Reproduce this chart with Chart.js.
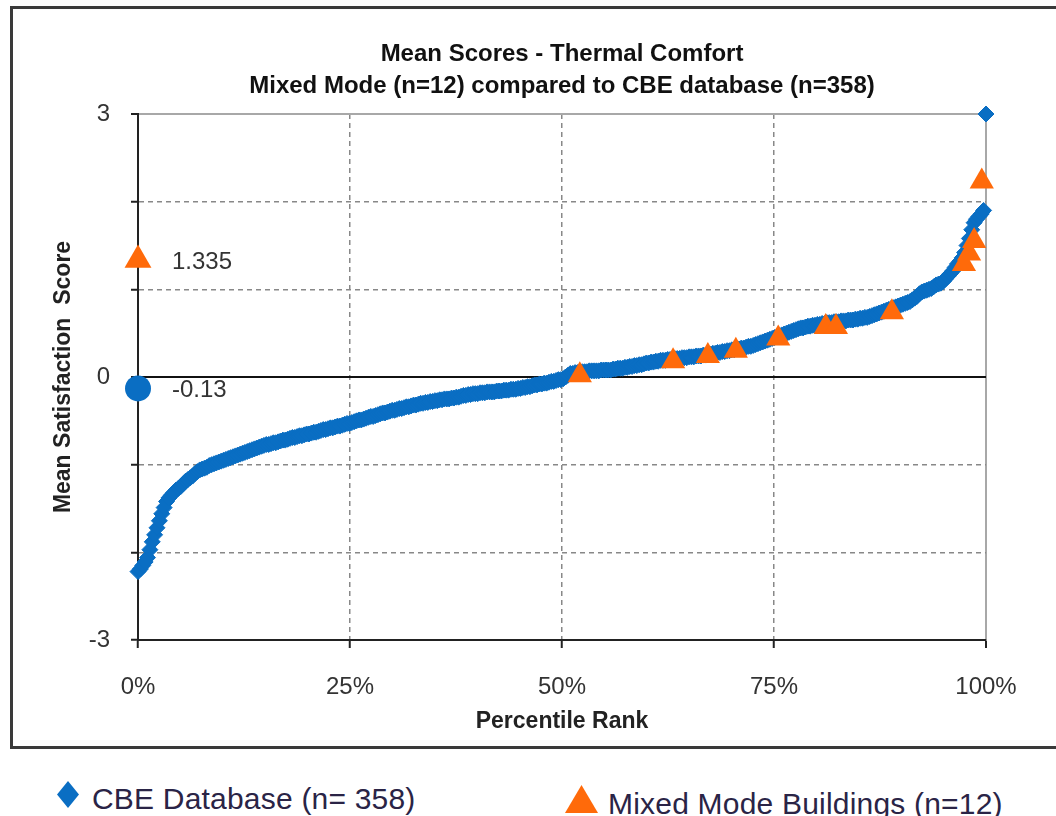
<!DOCTYPE html>
<html>
<head>
<meta charset="utf-8">
<script src="https://cdn.jsdelivr.net/npm/chart.js@4/dist/chart.umd.min.js"></script>
<style>
  html, body { margin: 0; padding: 0; background: #fff; width: 1056px; height: 816px; overflow: hidden; position: relative; font-family: 'Liberation Sans', Arial, sans-serif; }
  #frame { position: absolute; left: 10px; top: 6px; width: 1100px; height: 743px; border: 3px solid #3a3a3a; box-sizing: border-box; }
  #c { position: absolute; left: 0; top: 0; }
  .lg-text { position: absolute; font-size: 30px; line-height: 30px; color: #2a2446; letter-spacing: 0.2px; white-space: nowrap; }
  .lg-mark { position: absolute; }
</style>
</head>
<body>
<div id="frame"></div>
<canvas id="c" width="1056" height="760"></canvas>
<div class="lg-mark" id="lgDia" style="left:57px;top:781px;width:22px;height:27px;background:#0a6ec3;clip-path:polygon(50% 0,100% 50%,50% 100%,0 50%);"></div>
<div class="lg-text" id="lgT1" style="left:92px;top:784px;"></div>
<div class="lg-mark" id="lgTri" style="left:565px;top:785px;width:33px;height:28px;background:#ff6a0a;clip-path:polygon(50% 0,100% 100%,0 100%);"></div>
<div class="lg-text" id="lgT2" style="left:608px;top:789px;"></div>
<script>
// ---- data ----
const titleLines = ['Mean Scores - Thermal Comfort', 'Mixed Mode (n=12) compared to CBE database (n=358)'];
const xAxisTitle = 'Percentile Rank';
const yAxisTitle = 'Mean Satisfaction  Score';
const legendLabels = ['CBE Database (n= 358)', 'Mixed Mode Buildings (n=12)'];
const xTickValues = [0, 25, 50, 75, 100];
const yLabelledTicks = [3, 0, -3];

// CBE database building mean scores, sorted (358 buildings)
const cbeScores = [
  -2.22, -2.19, -2.15, -2.11, -2.06, -1.97, -1.88, -1.80, -1.72, -1.64,
  -1.56, -1.49, -1.42, -1.38, -1.35, -1.32, -1.29, -1.27, -1.25, -1.22,
  -1.19, -1.17, -1.15, -1.13, -1.10, -1.08, -1.06, -1.05, -1.04, -1.03,
  -1.01, -1.00, -0.99, -0.98, -0.97, -0.96, -0.95, -0.94, -0.93, -0.92,
  -0.91, -0.90, -0.89, -0.88, -0.87, -0.86, -0.85, -0.84, -0.83, -0.82,
  -0.81, -0.80, -0.79, -0.78, -0.77, -0.77, -0.76, -0.75, -0.75, -0.74,
  -0.73, -0.72, -0.72, -0.71, -0.70, -0.69, -0.69, -0.68, -0.67, -0.67,
  -0.66, -0.65, -0.65, -0.64, -0.63, -0.63, -0.62, -0.61, -0.60, -0.60,
  -0.59, -0.58, -0.58, -0.57, -0.56, -0.56, -0.55, -0.54, -0.53, -0.53,
  -0.52, -0.51, -0.50, -0.49, -0.49, -0.48, -0.47, -0.46, -0.45, -0.45,
  -0.44, -0.43, -0.42, -0.41, -0.41, -0.40, -0.39, -0.38, -0.38, -0.37,
  -0.36, -0.36, -0.35, -0.34, -0.34, -0.33, -0.32, -0.32, -0.31, -0.30,
  -0.30, -0.29, -0.29, -0.28, -0.28, -0.27, -0.27, -0.26, -0.26, -0.25,
  -0.25, -0.25, -0.24, -0.24, -0.23, -0.23, -0.22, -0.21, -0.21, -0.20,
  -0.20, -0.19, -0.19, -0.19, -0.18, -0.18, -0.18, -0.17, -0.17, -0.17,
  -0.17, -0.16, -0.16, -0.16, -0.15, -0.15, -0.15, -0.14, -0.14, -0.14,
  -0.13, -0.13, -0.12, -0.12, -0.11, -0.11, -0.10, -0.09, -0.09, -0.08,
  -0.08, -0.07, -0.07, -0.06, -0.05, -0.05, -0.04, -0.03, -0.03, -0.02,
   0.00,  0.02,  0.04,  0.04,  0.05,  0.05,  0.05,  0.06,  0.06,  0.06,
   0.07,  0.07,  0.07,  0.07,  0.07,  0.08,  0.08,  0.08,  0.08,  0.08,
   0.09,  0.09,  0.10,  0.10,  0.10,  0.11,  0.11,  0.12,  0.12,  0.13,
   0.13,  0.14,  0.14,  0.15,  0.16,  0.16,  0.17,  0.17,  0.18,  0.18,
   0.19,  0.19,  0.19,  0.20,  0.20,  0.20,  0.21,  0.21,  0.21,  0.22,
   0.22,  0.22,  0.23,  0.23,  0.23,  0.24,  0.24,  0.24,  0.25,  0.25,
   0.26,  0.26,  0.27,  0.27,  0.28,  0.28,  0.29,  0.29,  0.30,  0.30,
   0.31,  0.31,  0.32,  0.32,  0.33,  0.33,  0.34,  0.35,  0.35,  0.36,
   0.37,  0.38,  0.39,  0.40,  0.41,  0.42,  0.43,  0.44,  0.45,  0.46,
   0.47,  0.48,  0.49,  0.50,  0.51,  0.52,  0.53,  0.54,  0.55,  0.56,
   0.56,  0.57,  0.58,  0.58,  0.59,  0.59,  0.60,  0.60,  0.61,  0.61,
   0.62,  0.62,  0.62,  0.63,  0.63,  0.63,  0.64,  0.64,  0.64,  0.65,
   0.65,  0.65,  0.66,  0.66,  0.67,  0.67,  0.68,  0.68,  0.69,  0.70,
   0.71,  0.72,  0.73,  0.74,  0.75,  0.76,  0.77,  0.78,  0.79,  0.80,
   0.81,  0.82,  0.83,  0.84,  0.85,  0.86,  0.88,  0.90,  0.92,  0.95,
   0.97,  0.98,  0.99,  1.00,  1.01,  1.03,  1.05,  1.06,  1.07,  1.09,
   1.12,  1.15,  1.18,  1.21,  1.25,  1.29,  1.32,  1.36,  1.42,  1.50,
   1.58,  1.68,  1.76,  1.80,  1.83,  1.86,  1.90,  3.00
];
// percentile rank of each sorted building (0..100 %)
const cbeRank = cbeScores.map((_, i) => i / (cbeScores.length - 1) * 100);

// Mixed-mode buildings: percentile rank within CBE database and mean score
const mixedRank   = [52.1, 63.1, 67.2, 70.5, 75.5, 81.1, 82.3, 88.9, 97.4, 98.0, 98.6, 99.5];
const mixedScores = [0.02, 0.18, 0.24, 0.30, 0.44, 0.57, 0.57, 0.74, 1.29, 1.41, 1.55, 2.23];

// Group means plotted at 0 %
const meanMixed = 1.335;
const meanCBE = -0.13;
const meanLabels = ['1.335', '-0.13'];

// ---- chart ----
const BLUE = '#0a6ec3';
const ORANGE = '#ff6a0a';
const FONT = "'Liberation Sans', Arial, sans-serif";

document.getElementById('lgT1').textContent = legendLabels[0];
document.getElementById('lgT2').textContent = legendLabels[1];

const labelPlugin = {
  id: 'meanLabels',
  afterDatasetsDraw(chart) {
    const ctx = chart.ctx;
    ctx.save();
    ctx.font = '24px ' + FONT;
    ctx.fillStyle = '#333';
    ctx.textAlign = 'left';
    ctx.textBaseline = 'middle';
    chart.data.datasets.forEach((ds, di) => {
      if (ds.meanLabel === undefined) return;
      const el = chart.getDatasetMeta(di).data[0];
      ctx.fillText(ds.meanLabel, el.x + 34, el.y + 2);
    });
    ctx.restore();
  }
};

const dashedY = v => [1, 2, -1, -2].includes(v);
const dashedX = v => [25, 50, 75].includes(v);

new Chart(document.getElementById('c'), {
  type: 'scatter',
  data: {
    datasets: [
      {
        label: 'Mixed Mode mean',
        data: [{ x: 0, y: meanMixed }],
        meanLabel: meanLabels[0],
        pointStyle: 'triangle',
        pointRadius: 15.5,
        backgroundColor: ORANGE,
        borderColor: ORANGE,
        borderWidth: 0,
        clip: false,
        order: 0
      },
      {
        label: 'CBE mean',
        data: [{ x: 0, y: meanCBE }],
        meanLabel: meanLabels[1],
        pointStyle: 'circle',
        pointRadius: 13,
        backgroundColor: BLUE,
        borderColor: BLUE,
        borderWidth: 0,
        clip: false,
        order: 1
      },
      {
        label: legendLabels[1],
        data: mixedRank.map((x, i) => ({ x, y: mixedScores[i] })),
        pointStyle: 'triangle',
        pointRadius: 14,
        backgroundColor: ORANGE,
        borderColor: ORANGE,
        borderWidth: 0,
        clip: false,
        order: 2
      },
      {
        label: legendLabels[0],
        data: cbeRank.map((x, i) => ({ x, y: cbeScores[i] })),
        pointStyle: 'rectRot',
        pointRadius: 8,
        backgroundColor: BLUE,
        borderColor: BLUE,
        borderWidth: 1,
        clip: false,
        order: 3
      }
    ]
  },
  options: {
    responsive: false,
    animation: false,
    devicePixelRatio: 1,
    layout: { padding: { left: 20, right: 70, top: 0, bottom: 0 } },
    plugins: {
      legend: { display: false },
      tooltip: { enabled: false },
      title: {
        display: true,
        fullSize: false,
        text: titleLines,
        color: '#111',
        font: { family: FONT, size: 24, weight: 'bold', lineHeight: 32 / 24 },
        padding: { top: 38, bottom: 12 }
      }
    },
    scales: {
      x: {
        type: 'linear',
        min: 0, max: 100,
        afterBuildTicks(scale) { scale.ticks = xTickValues.map(v => ({ value: v })); },
        afterFit(scale) { scale.height = 120; },
        ticks: {
          padding: 25,
          color: '#333',
          font: { family: FONT, size: 24 },
          callback: v => v + '%'
        },
        grid: {
          color: c => (c.tick && dashedX(c.tick.value)) ? '#888' : (c.tick && c.tick.value === 100 ? '#a8a8a8' : 'rgba(0,0,0,0)'),
          lineWidth: c => (c.tick && c.tick.value === 100) ? 2 : 1.5,
          tickColor: '#222',
          tickLength: 8,
          tickWidth: 2
        },
        border: {
          display: true, color: '#222', width: 2,
          dash: c => (c.tick && dashedX(c.tick.value)) ? [5, 4] : []
        },
        title: {
          display: true,
          text: xAxisTitle,
          color: '#222',
          font: { family: FONT, size: 23, weight: 'bold', lineHeight: 1.2 },
          padding: { top: 0, bottom: 25 }
        }
      },
      y: {
        type: 'linear',
        min: -3, max: 3,
        ticks: {
          stepSize: 1,
          padding: 21,
          color: '#333',
          font: { family: FONT, size: 24 },
          callback: v => yLabelledTicks.includes(v) ? String(v) : ''
        },
        afterFit(scale) { scale.width = 118; },
        grid: {
          color: c => {
            if (!c.tick) return 'rgba(0,0,0,0)';
            const v = c.tick.value;
            if (v === 0) return '#111';
            if (v === 3) return '#a8a8a8';
            if (v === -3) return 'rgba(0,0,0,0)';
            return '#888';
          },
          lineWidth: c => (c.tick && (c.tick.value === 0 || c.tick.value === 3)) ? 2 : 1.5,
          tickColor: '#222',
          tickLength: 7,
          tickWidth: 2
        },
        border: {
          display: true, color: '#222', width: 2,
          dash: c => (c.tick && dashedY(c.tick.value)) ? [5, 4] : []
        },
        title: {
          display: true,
          text: yAxisTitle,
          color: '#222',
          font: { family: FONT, size: 23, weight: 'bold', lineHeight: 1.2 },
          padding: { top: 30, bottom: 0 }
        }
      }
    }
  },
  plugins: [labelPlugin]
});
</script>
</body>
</html>
